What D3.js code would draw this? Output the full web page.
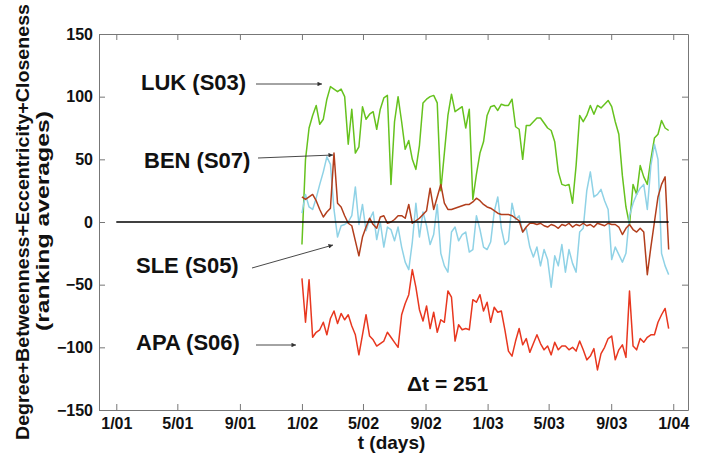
<!DOCTYPE html>
<html>
<head>
<meta charset="utf-8">
<script src="https://cdn.jsdelivr.net/npm/d3@7"></script>
<style>
  body { margin: 0; background: #fff; }
  text { font-family: "Liberation Sans", Arial, Helvetica, sans-serif; font-weight: bold; fill: #111; }
</style>
</head>
<body>
<svg id="chart" width="701" height="454"></svg>
<script>
// weekly samples, starting 1 Jan 2002
const seriesStart = Date.UTC(2002, 0, 1);
const stepDays = 7;

const lukValues = [-18, 50, 75, 85, 93, 78, 82, 98, 108, 106, 104, 106, 100, 62, 90, 55, 60, 92, 82, 86,
  88, 74, 90, 99, 101, 30, 80, 100, 80, 58, 65, 50, 42, 61, 95, 98, 100, 101, 95, 25,
  55, 85, 102, 88, 90, 92, 75, 90, 18, 38, 55, 64, 85, 92, 93, 89, 94, 93, 93, 98,
  76, 74, 50, 77, 77, 80, 83, 83, 79, 75, 73, 64, 40, 30, 29, 30, 15, 45, 85, 80,
  85, 93, 86, 93, 91, 94, 97, 92, 80, 70, 37, 12, -2, 30, 22, 45, 36, 30, 50, 67,
  70, 81, 75, 73];

const benValues = [20, 18, 20, 22, 17, 10, 4, 8, 11, 55, 15, 12, 5, -1, -3, -15, -27, -12, -4, 3,
  -2, -5, 4, 5, -1, 0, 2, 5, 5, 3, 14, -1, 1, 3, 6, 9, 27, 10, 20, 30,
  15, 10, 10, 11, 12, 13, 14, 14, 16, 19, 17, 14, 12, 11, 9, 7, 6, 6, 6, 5,
  3, 1, -8, -4, -1, -1, -2, -1, -3, -4, -2, -3, -5, -2, -3, -1, -4, -2, -3, -1,
  -3, -2, -4, -1, -2, -3, -1, -2, -2, -4, -10, -5, -2, -6, -8, -5, -8, -42, -20, 0,
  20, 30, 36, -22];

const sleValues = [7, 22, 12, 10, 19, 30, 40, 52, 46, 10, -12, -3, -2, 0, 5, 28, -2, 14, -7, 2,
  8, -14, 0, -20, -4, -6, -15, -4, -20, -32, -38, -16, 15, -12, 8, -3, -18, -10, 14, -25,
  -35, -40, -8, -4, -15, -10, -8, -24, -22, 5, -6, -20, -22, -16, 8, 20, -5, -18, -15, 15,
  2, 5, -8, -5, -20, -28, -20, -35, -22, -30, -52, -27, -35, -18, -40, -22, -33, -40, -8, -5,
  25, 40, 20, 22, 26, 17, 10, -30, -20, -26, -32, -25, 5, 15, 22, 27, 30, 10, 45, 62,
  50, -25, -35, -42];

const apaValues = [-45, -80, -46, -92, -88, -86, -80, -90, -77, -71, -81, -73, -78, -74, -83, -90, -106, -90, -74, -91,
  -94, -99, -97, -95, -88, -92, -96, -100, -74, -65, -58, -38, -52, -70, -79, -67, -85, -72, -88, -78,
  -80, -55, -60, -95, -82, -86, -85, -86, -62, -64, -58, -71, -64, -80, -68, -72, -71, -86, -103, -107,
  -95, -85, -98, -93, -104, -97, -90, -97, -102, -99, -106, -96, -102, -99, -99, -102, -100, -103, -95, -102,
  -110, -107, -101, -118, -105, -100, -93, -91, -110, -102, -98, -108, -55, -99, -102, -93, -96, -92, -90, -90,
  -80, -74, -69, -85];

const tickDates = [Date.UTC(2001, 0, 1), Date.UTC(2001, 4, 1), Date.UTC(2001, 8, 1), Date.UTC(2002, 0, 1),
  Date.UTC(2002, 4, 1), Date.UTC(2002, 8, 1), Date.UTC(2003, 0, 1), Date.UTC(2003, 4, 1),
  Date.UTC(2003, 8, 1), Date.UTC(2004, 0, 1)];
const tickLabels = ["1/01", "5/01", "9/01", "1/02", "5/02", "9/02", "1/03", "5/03", "9/03", "1/04"];
const yTicks = [-150, -100, -50, 0, 50, 100, 150];

const dates = lukValues.map((d, i) => new Date(seriesStart + i * stepDays * 864e5));

const series = [
  { name: "LUK (S03)", values: lukValues, color: "#66c21e" },
  { name: "SLE (S05)", values: sleValues, color: "#8fd2e6" },
  { name: "BEN (S07)", values: benValues, color: "#b23e1c" },
  { name: "APA (S06)", values: apaValues, color: "#e8371f" }
];

const plotLeft = 99, plotRight = 688, plotTop = 34, plotBottom = 410;

const svg = d3.select("#chart");

const x = d3.scaleUtc()
  .domain([new Date(Date.UTC(2000, 10, 28)), new Date(Date.UTC(2004, 0, 30))])
  .range([plotLeft, plotRight]);

const y = d3.scaleLinear()
  .domain([-150, 150])
  .range([plotBottom, plotTop]);

// series
const line = d3.line()
  .x((d, i) => x(dates[i]))
  .y(d => y(d));

svg.append("g")
  .selectAll("path")
  .data(series)
  .enter()
  .append("path")
  .attr("d", d => line(d.values))
  .attr("fill", "none")
  .attr("stroke", d => d.color)
  .attr("stroke-width", 1.5)
  .attr("stroke-linejoin", "round");

// zero line
svg.append("line")
  .attr("x1", x(new Date(tickDates[0])))
  .attr("x2", x(dates[dates.length - 1]))
  .attr("y1", y(0))
  .attr("y2", y(0))
  .attr("stroke", "#000")
  .attr("stroke-width", 1.6);

// axes, MATLAB style box with inward ticks
const axisColor = "#777";
const tickLen = 6;

svg.append("g")
  .attr("transform", `translate(0,${plotBottom})`)
  .call(d3.axisBottom(x).tickValues(tickDates.map(d => new Date(d)))
    .tickFormat((d, i) => tickLabels[i]).tickSizeInner(-tickLen).tickSizeOuter(0).tickPadding(8));

svg.append("g")
  .attr("transform", `translate(0,${plotTop})`)
  .call(d3.axisTop(x).tickValues(tickDates.map(d => new Date(d)))
    .tickFormat("").tickSizeInner(-tickLen).tickSizeOuter(0));

svg.append("g")
  .attr("transform", `translate(${plotLeft},0)`)
  .call(d3.axisLeft(y).tickValues(yTicks).tickSizeInner(-tickLen).tickSizeOuter(0).tickPadding(6));

svg.append("g")
  .attr("transform", `translate(${plotRight},0)`)
  .call(d3.axisRight(y).tickValues(yTicks).tickFormat("").tickSizeInner(-tickLen).tickSizeOuter(0));

svg.selectAll(".domain, .tick line").attr("stroke", axisColor);
svg.selectAll(".tick text")
  .style("font-size", "16px")
  .style("font-family", "'Liberation Sans', Arial, sans-serif")
  .style("font-weight", "bold")
  .attr("fill", "#111");

// axis labels
svg.append("text")
  .attr("x", (plotLeft + plotRight) / 2 - 2)
  .attr("y", 449)
  .attr("text-anchor", "middle")
  .style("font-size", "19px")
  .text("t (days)");

svg.append("text")
  .attr("transform", `translate(29,${(plotTop + plotBottom) / 2}) rotate(-90)`)
  .attr("text-anchor", "middle")
  .attr("textLength", 436)
  .attr("lengthAdjust", "spacingAndGlyphs")
  .style("font-size", "19px")
  .text("Degree+Betweenness+Eccentricity+Closeness");

svg.append("text")
  .attr("transform", `translate(49,${(plotTop + plotBottom) / 2 - 1}) rotate(-90)`)
  .attr("text-anchor", "middle")
  .attr("textLength", 220)
  .attr("lengthAdjust", "spacingAndGlyphs")
  .style("font-size", "19px")
  .text("(ranking averages)");

svg.append("text")
  .attr("x", 407)
  .attr("y", 391)
  .style("font-size", "21px")
  .text("\u0394t = 251");

// annotations with arrows
svg.append("defs").append("marker")
  .attr("id", "head")
  .attr("viewBox", "0 0 10 10")
  .attr("refX", 10).attr("refY", 5)
  .attr("markerWidth", 7).attr("markerHeight", 5)
  .attr("orient", "auto")
  .append("path")
  .attr("d", "M0,0L10,5L0,10z")
  .attr("fill", "#333");

const notes = [
  { text: "LUK (S03)", tx: 141, ty: 90, x1: 256, y1: 84, x2: 322, y2: 84 },
  { text: "BEN (S07)", tx: 144, ty: 168, x1: 258, y1: 158, x2: 333, y2: 155 },
  { text: "SLE (S05)", tx: 136, ty: 273, x1: 252, y1: 268, x2: 333, y2: 245 },
  { text: "APA (S06)", tx: 136, ty: 350, x1: 256, y1: 345, x2: 296, y2: 345 }
];

notes.forEach(n => {
  svg.append("text")
    .attr("x", n.tx)
    .attr("y", n.ty)
    .style("font-size", "22px")
    .text(n.text);
  svg.append("line")
    .attr("x1", n.x1).attr("y1", n.y1)
    .attr("x2", n.x2).attr("y2", n.y2)
    .attr("stroke", "#333")
    .attr("stroke-width", 0.9)
    .attr("marker-end", "url(#head)");
});
</script>
</body>
</html>
